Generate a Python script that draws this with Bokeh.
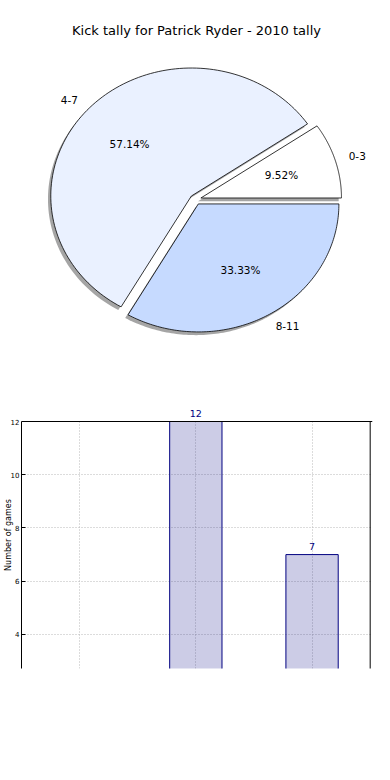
import numpy as np
from bokeh.plotting import figure
from bokeh.models import (Range1d, Label, LabelSet, ColumnDataSource, Span,
                          FixedTicker, BoxAnnotation)
from bokeh.layouts import column
from bokeh.embed import file_html
from bokeh.resources import INLINE
from bokeh.core.properties import value

# ---------------- data ----------------
title_text = "Kick tally for Patrick Ryder - 2010 tally"
categories = ["0-3", "4-7", "8-11"]
counts = [2, 12, 7]
pie_colors = ["#ffffff", "#eaf1ff", "#c6daff"]
y_label = "Number of games"
y_ticks = [4, 6, 8, 10, 12]

FONT = "DejaVu Sans"
BL, BR = 20, 18  # shared left/right borders (column aligns frames)

# ---------------- pie ----------------
total = float(sum(counts))
fracs = np.array(counts) / total
ends = np.cumsum(fracs) * 2 * np.pi
starts = ends - fracs * 2 * np.pi
mids = (starts + ends) / 2
explode = 0.04

p1 = figure(width=390, height=380,
            x_range=Range1d(-1.2376, 1.2589), y_range=Range1d(-1.4141, 1.5547),
            x_axis_location=None, y_axis_location=None,
            output_backend="svg", toolbar_location=None,
            min_border_left=BL, min_border_right=BR,
            min_border_top=0, min_border_bottom=0)
p1.grid.visible = False
p1.outline_line_color = None

wx, wy, sx, sy = [], [], [], []
for s, e, m in zip(starts, ends, mids):
    cx, cy = explode * np.cos(m), explode * np.sin(m)
    th = np.linspace(s, e, 120)
    xs = np.concatenate([[cx], cx + np.cos(th), [cx]])
    ys = np.concatenate([[cy], cy + np.sin(th), [cy]])
    wx.append(xs)
    wy.append(ys)
    sx.append(xs - 0.02)
    sy.append(ys - 0.025)

p1.patches(sx, sy, fill_color="#4c4c4c", fill_alpha=0.5, line_color=None)
p1.patches(wx, wy, fill_color=pie_colors, line_color="black", line_width=0.8)

pct = ["%.2f%%" % (f * 100) for f in fracs]
lab_src = ColumnDataSource(dict(
    x=explode * np.cos(mids) + 1.1 * np.cos(mids),
    y=explode * np.sin(mids) + 1.1 * np.sin(mids),
    text=categories,
    align=["left" if np.cos(m) >= 0 else "right" for m in mids],
))
p1.text(x="x", y="y", text="text", text_align="align", text_baseline="middle",
        text_font=value(FONT), text_font_size="10.5px", text_color="black",
        source=lab_src)
pct_src = ColumnDataSource(dict(
    x=explode * np.cos(mids) + 0.6 * np.cos(mids),
    y=explode * np.sin(mids) + 0.6 * np.sin(mids),
    text=pct,
))
p1.text(x="x", y="y", text="text", text_align="center", text_baseline="middle",
        text_font=value(FONT), text_font_size="10.5px", text_color="black",
        source=pct_src)

p1.add_layout(Label(x=195 - BL, y=350, x_units="screen", y_units="screen",
                    text=title_text, text_align="center", text_baseline="middle",
                    text_font=FONT, text_font_size="13px", text_color="black"))

# ---------------- bars ----------------
xpos = list(range(len(categories)))
y_start, y_top = 2.72, 12
x_lo, x_hi = -0.5, 2.5
bar_w = 0.45
p2 = figure(width=390, height=400,
            x_range=Range1d(x_lo, 2.52), y_range=Range1d(y_start, 12.752),
            x_axis_location=None,
            output_backend="svg", toolbar_location=None,
            min_border_left=BL, min_border_right=BR,
            min_border_top=21, min_border_bottom=112)
p2.outline_line_color = None
p2.xgrid.ticker = FixedTicker(ticks=xpos)
p2.ygrid.ticker = FixedTicker(ticks=y_ticks)
p2.grid.grid_line_color = "#b8b8b8"
p2.grid.grid_line_dash = "1 2"
p2.grid.grid_line_width = 1

# bar fills and open outlines (bars run below the visible window)
ox = [[x - bar_w / 2, x - bar_w / 2, x + bar_w / 2, x + bar_w / 2] for x in xpos]
oy = [[0, c, c, 0] for c in counts]
p2.patches(ox, oy, fill_color="navy", fill_alpha=0.2, line_color=None)
p2.multi_line(ox, oy, line_color="navy", line_width=1)

# right spine (clipped to the plot box)
p2.segment(x0=[x_hi], y0=[0], x1=[x_hi], y1=[y_top], line_color="black", line_width=1)

yax = p2.yaxis[0]
yax.ticker = FixedTicker(ticks=y_ticks)
yax.bounds = (y_start, y_top)
yax.major_tick_in = 4
yax.major_tick_out = 0
yax.minor_tick_line_color = None
yax.major_label_standoff = 2
yax.major_label_text_font = FONT
yax.major_label_text_font_size = "7px"
yax.major_label_text_color = "black"
yax.axis_line_color = "black"
yax.major_tick_line_color = "black"
yax.axis_label = y_label
yax.axis_label_text_font = FONT
yax.axis_label_text_font_style = "normal"
yax.axis_label_text_font_size = "8px"
yax.axis_label_text_color = "black"
yax.axis_label_standoff = -5

# blank the strip above the plot box, then the top spine
p2.add_layout(BoxAnnotation(bottom=y_top, fill_color="white", fill_alpha=1,
                            line_color=None))
p2.add_layout(Span(location=y_top, dimension="width", line_color="black", line_width=1))

val_src = ColumnDataSource(dict(x=xpos, y=counts, text=[str(c) for c in counts]))
p2.add_layout(LabelSet(x="x", y="y", text="text", source=val_src,
                       y_offset=5, text_align="center", text_baseline="bottom",
                       text_font=value(FONT), text_font_size="9.5px",
                       text_color="navy"))

layout = column(p1, p2)
open("out.html", "w").write(file_html(layout, INLINE))
